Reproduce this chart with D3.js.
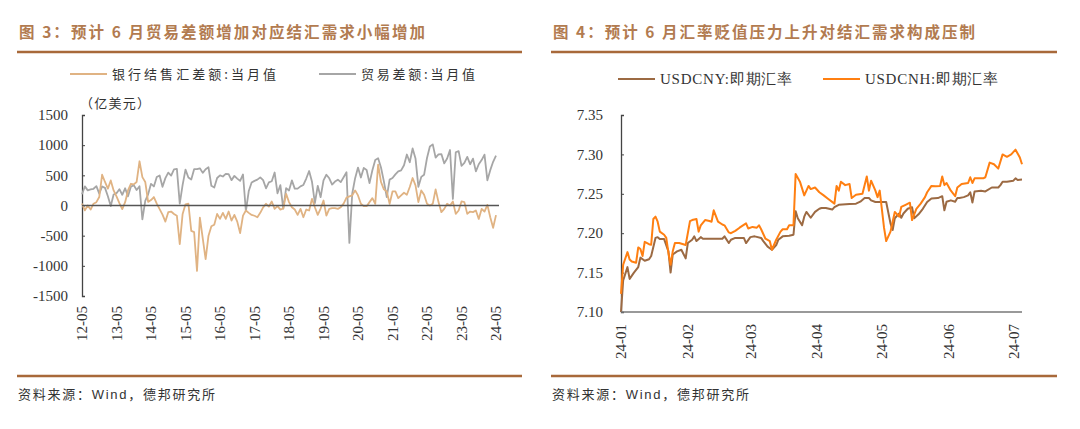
<!DOCTYPE html>
<html>
<head>
<meta charset="utf-8">
<script src="https://cdn.jsdelivr.net/npm/d3@7"></script>
<style>
  body { margin: 0; background: #fff; }
  svg { display: block; }
</style>
</head>
<body>
<script>
// ---- left chart data (monthly, 2012-05 .. 2024-05, 亿美元)
let fxSettle = [
  30, -80, 0, -67, 30, 55, 140, 510, 390, 280, 415, 250, 150, 40, -60, 55, 250, 360, 350, 390,
  733, 470, 390, 60, 90, 140, 30, -60, -150, -267, -110, -100, -140, -170, -640, -140, 20, 30, -420, -440,
  -1085, -200, -545, -890, -500, -345, -320, -139, -222, -122, -222, -100, -250, -156, -267, -456, -167, -83, -122, -156,
  -170, -194, -122, -30, 28, -17, 67, -56, -11, -67, -50, 194, 56, -28, -67, -156, -56, -194, -67, -83,
  111, -28, -156, -50, 83, -167, -56, -44, -44, -56, -28, 30, 130, 150, 167, 250, 167, 28, -11, -11,
  56, 122, 28, 678, 389, 267, 233, 28, 233, 233, 122, 167, 211, 178, 306, 456, 333, 56, 250, 178,
  28, 0, 28, 267, 56, -111, -56, 28, 0, 67, -139, -83, 67, 56, -139, -100, -110, -83, -222, -56,
  -100, 11, -194, -370, -160
]
let tradeBal = [
  187, 317, 251, 267, 277, 320, 196, 316, 292, 153, -9, 182, 204, 271, 178, 285, 152, 311, 338, 256,
  319, -230, 77, 185, 359, 316, 473, 498, 310, 454, 545, 496, 600, 606, 31, 341, 595, 465, 430, 602,
  603, 616, 541, 601, 633, 326, 299, 456, 500, 481, 523, 520, 420, 491, 446, 408, 514, -92, 239, 380,
  408, 428, 467, 420, 285, 382, 402, 547, 203, 337, -50, 288, 249, 416, 280, 279, 317, 340, 447, 571,
  392, 41, 326, 138, 417, 510, 451, 348, 397, 428, 387, 468, 550, -620, 199, 453, 629, 464, 623, 589,
  370, 584, 754, 782, 630, 400, 138, 429, 455, 515, 566, 583, 668, 845, 717, 945, 780, 310, 474, 511,
  787, 979, 1013, 794, 847, 852, 698, 780, 920, 110, 882, 902, 658, 706, 806, 684, 777, 565, 684, 753,
  844, 417, 586, 724, 826
]
let monthLabels = ["12-05", "13-05", "14-05", "15-05", "16-05", "17-05", "18-05",
  "19-05", "20-05", "21-05", "22-05", "23-05", "24-05"]
let leftTicks = [1500, 1000, 500, 0, -500, -1000, -1500]

// ---- right chart data (daily, 2024)
let cnyDates = ["01-01", "01-02", "01-04", "01-05", "01-07", "01-09", "01-10", "01-12", "01-14", "01-15",
  "01-17", "01-18", "01-19", "01-21", "01-23", "01-24", "01-25", "01-27", "01-29", "01-31",
  "02-01", "02-03", "02-04", "02-05", "02-07", "02-08", "02-17", "02-18", "02-20", "02-21",
  "02-23", "02-27", "02-28", "03-01", "03-03", "03-06", "03-07", "03-09", "03-11", "03-13",
  "03-14", "03-16", "03-19", "03-21", "03-22", "03-23", "03-25", "03-26", "03-27", "03-29",
  "03-31", "04-02", "04-03", "04-05", "04-08", "04-09", "04-11", "04-16", "04-19", "04-21",
  "04-23", "04-25", "04-26", "04-28", "05-03", "05-05", "05-06", "05-07", "05-09", "05-10",
  "05-11", "05-13", "05-15", "05-16", "05-18", "05-20", "05-22", "05-24", "05-27", "05-28",
  "05-29", "05-30", "05-31", "06-02", "06-04", "06-05", "06-06", "06-08", "06-10", "06-11",
  "06-12", "06-13", "06-16", "06-18", "06-21", "06-24", "06-25", "06-26", "06-28", "07-01",
  "07-02", "07-03", "07-05"]
let cnyValues = [7.100, 7.140, 7.157, 7.142, 7.150, 7.157, 7.169, 7.165, 7.167, 7.171,
  7.194, 7.195, 7.1925, 7.1925, 7.177, 7.150, 7.173, 7.177, 7.179, 7.168,
  7.1875, 7.1917, 7.196, 7.190, 7.195, 7.193, 7.193, 7.196, 7.1875, 7.1917,
  7.194, 7.194, 7.1875, 7.195, 7.196, 7.194, 7.190, 7.183, 7.179, 7.185,
  7.1917, 7.196, 7.1967, 7.198, 7.228, 7.219, 7.210, 7.221, 7.227, 7.2196,
  7.227, 7.231, 7.232, 7.232, 7.230, 7.233, 7.236, 7.237, 7.2375, 7.240,
  7.2446, 7.2446, 7.2417, 7.2396, 7.2396, 7.2125, 7.204, 7.219, 7.225, 7.2196,
  7.225, 7.231, 7.233, 7.219, 7.224, 7.231, 7.2396, 7.244, 7.2446, 7.2458,
  7.247, 7.229, 7.240, 7.2417, 7.240, 7.2446, 7.2446, 7.2458, 7.248, 7.252,
  7.239, 7.253, 7.254, 7.253, 7.258, 7.258, 7.261, 7.2654, 7.2654, 7.2667,
  7.2696, 7.2675, 7.268]
let cnhDates = ["01-01", "01-02", "01-04", "01-05", "01-06", "01-08", "01-09", "01-10", "01-11", "01-12",
  "01-14", "01-15", "01-16", "01-17", "01-18", "01-19", "01-21", "01-22", "01-23", "01-24",
  "01-25", "01-26", "01-28", "01-31", "02-02", "02-03", "02-05", "02-06", "02-07", "02-09",
  "02-11", "02-12", "02-13", "02-15", "02-17", "02-18", "02-20", "02-21", "02-23", "02-25",
  "02-28", "02-29", "03-02", "03-04", "03-05", "03-06", "03-08", "03-10", "03-11", "03-13",
  "03-15", "03-16", "03-18", "03-19", "03-21", "03-22", "03-24", "03-26", "03-28", "03-29",
  "03-31", "04-02", "04-04", "04-06", "04-09", "04-10", "04-11", "04-12", "04-14", "04-16",
  "04-17", "04-19", "04-22", "04-24", "04-25", "04-26", "04-28", "04-29", "04-30", "05-02",
  "05-03", "05-05", "05-06", "05-07", "05-09", "05-10", "05-12", "05-14", "05-15", "05-17",
  "05-19", "05-21", "05-22", "05-24", "05-26", "05-28", "05-29", "05-30", "05-31", "06-02",
  "06-04", "06-05", "06-07", "06-10", "06-11", "06-12", "06-13", "06-17", "06-18", "06-20",
  "06-22", "06-24", "06-26", "06-28", "06-30", "07-02", "07-04", "07-05"]
let cnhValues = [7.123, 7.160, 7.176, 7.1667, 7.164, 7.1625, 7.182, 7.180, 7.171, 7.189,
  7.186, 7.1854, 7.218, 7.221, 7.2146, 7.202, 7.198, 7.194, 7.175, 7.160,
  7.177, 7.1875, 7.1875, 7.185, 7.2154, 7.2167, 7.218, 7.202, 7.210, 7.2167,
  7.2154, 7.2146, 7.229, 7.2146, 7.211, 7.210, 7.201, 7.200, 7.203, 7.207,
  7.2125, 7.206, 7.208, 7.207, 7.210, 7.205, 7.193, 7.190, 7.179, 7.1917,
  7.202, 7.205, 7.205, 7.210, 7.210, 7.275, 7.2654, 7.248, 7.260, 7.256,
  7.258, 7.252, 7.248, 7.2437, 7.2375, 7.260, 7.254, 7.2654, 7.261, 7.2625,
  7.2446, 7.2488, 7.250, 7.272, 7.254, 7.2667, 7.254, 7.2458, 7.254, 7.207,
  7.190, 7.202, 7.2146, 7.227, 7.221, 7.2333, 7.236, 7.2387, 7.2167, 7.231,
  7.2375, 7.2458, 7.252, 7.260, 7.2596, 7.260, 7.272, 7.261, 7.2637, 7.254,
  7.247, 7.258, 7.2625, 7.2637, 7.271, 7.2637, 7.2696, 7.2696, 7.271, 7.2896,
  7.2875, 7.282, 7.300, 7.297, 7.300, 7.306, 7.296, 7.2875]
let dayLabels = ["24-01", "24-02", "24-03", "24-04", "24-05", "24-06", "24-07"]
let rightTicks = [7.10, 7.15, 7.20, 7.25, 7.30, 7.35]

let W = 1080, H = 429
let serif = "'Liberation Serif', 'Times New Roman', serif"
let cjk = "'Noto Sans CJK SC', sans-serif"
let titleColor = "#b27b50"
let ruleColor = "#a8693a"
let textColor = "#333"

let svg = d3.select("body").append("svg")
  .attr("width", W)
  .attr("height", H)
  .style("background", "#fff")

// panel frame: title, rules and source
function panel(x0, x1, title, titleLen) {
  svg.append("text")
    .attr("x", x0 + 2).attr("y", 38)
    .attr("font-family", cjk).attr("font-weight", "bold")
    .attr("font-size", 15.5).attr("fill", titleColor)
    .attr("textLength", titleLen).attr("lengthAdjust", "spacing")
    .text(title)
  svg.append("line")
    .attr("x1", x0).attr("x2", x1).attr("y1", 52).attr("y2", 52)
    .attr("stroke", ruleColor).attr("stroke-width", 2.5)
  svg.append("line")
    .attr("x1", x0).attr("x2", x1).attr("y1", 376).attr("y2", 376)
    .attr("stroke", ruleColor).attr("stroke-width", 2.5)
  let src = svg.append("text")
    .attr("x", x0 + 1).attr("y", 399)
    .attr("font-size", 13).attr("fill", textColor)
    .attr("textLength", 197).attr("lengthAdjust", "spacing")
  src.append("tspan").attr("font-family", cjk).text("资料来源：")
  src.append("tspan").attr("font-family", "'Liberation Sans', Arial, sans-serif").text("Wind")
  src.append("tspan").attr("font-family", cjk).text("，德邦研究所")
}

function legendItem(x, y, color, label, len, font, size) {
  svg.append("line")
    .attr("x1", x).attr("x2", x + 37).attr("y1", y).attr("y2", y)
    .attr("stroke", color).attr("stroke-width", 2)
  svg.append("text")
    .attr("x", x + 42).attr("y", y + 5)
    .attr("font-family", font).attr("font-size", size).attr("fill", textColor)
    .attr("textLength", len).attr("lengthAdjust", "spacing")
    .text(label)
}

panel(17, 522, "图 3：预计 6 月贸易差额增加对应结汇需求小幅增加", 406)
panel(551, 1057, "图 4：预计 6 月汇率贬值压力上升对结汇需求构成压制", 422)

// ================= left chart
let xL = d3.scaleLinear().domain([0, tradeBal.length - 1]).range([82, 496])
let yL = d3.scaleLinear().domain([-1500, 1500]).range([296, 115])

legendItem(70, 74, "#e0b383", "银行结售汇差额:当月值", 164, cjk, 13)
legendItem(319, 74, "#a6a6a6", "贸易差额:当月值", 114, cjk, 13)

svg.append("text")
  .attr("x", 80).attr("y", 108)
  .attr("font-family", cjk).attr("font-size", 13).attr("fill", textColor)
  .attr("textLength", 70).attr("lengthAdjust", "spacing")
  .text("（亿美元）")

let gyL = svg.append("g").attr("transform", "translate(82,0)")
  .call(d3.axisRight(yL).tickValues(leftTicks).tickSize(3).tickFormat(d3.format("d")))
gyL.selectAll("text").remove()
gyL.select(".domain").attr("stroke", "#444").attr("stroke-width", 1.3)
gyL.selectAll(".tick line").attr("stroke", "#444")

svg.selectAll(".ylab-l").data(leftTicks).enter().append("text")
  .attr("class", "ylab-l")
  .attr("x", 68).attr("y", d => yL(d)).attr("dy", "0.35em")
  .attr("text-anchor", "end")
  .attr("font-family", serif).attr("font-size", 15).attr("fill", textColor)
  .text(d => d)

let lineL = d3.line().x((d, i) => xL(i)).y(d => yL(d))
svg.append("path").datum(tradeBal)
  .attr("d", lineL).attr("fill", "none")
  .attr("stroke", "#a6a6a6").attr("stroke-width", 1.8).attr("stroke-linejoin", "round")
svg.append("path").datum(fxSettle)
  .attr("d", lineL).attr("fill", "none")
  .attr("stroke", "#e0b383").attr("stroke-width", 1.8).attr("stroke-linejoin", "round")

// zero line (category axis)
svg.append("line")
  .attr("x1", 82).attr("x2", 499).attr("y1", yL(0)).attr("y2", yL(0))
  .attr("stroke", "#555").attr("stroke-width", 1.5)

svg.selectAll(".xlab-l").data(monthLabels).enter().append("text")
  .attr("class", "xlab-l")
  .attr("transform", (d, i) => "translate(" + xL(i * 12) + ",306) rotate(-90)")
  .attr("dy", "0.35em").attr("text-anchor", "end")
  .attr("font-family", serif).attr("font-size", 15).attr("fill", textColor)
  .text(d => d)

// ================= right chart
let parse = d3.timeParse("%Y-%m-%d")
let cny = cnyDates.map((d, i) => ({ date: parse("2024-" + d), v: cnyValues[i] }))
let cnh = cnhDates.map((d, i) => ({ date: parse("2024-" + d), v: cnhValues[i] }))

let xR = d3.scaleTime().domain([parse("2024-01-01"), parse("2024-07-05")]).range([621, 1022])
let yR = d3.scaleLinear().domain([7.10, 7.35]).range([312, 115])

legendItem(618, 79, "#9c6a43", "USDCNY:即期汇率", 132, serif, 15)
legendItem(823, 79, "#ff7f11", "USDCNH:即期汇率", 133, serif, 15)

let gyR = svg.append("g").attr("transform", "translate(621,0)")
  .call(d3.axisRight(yR).tickValues(rightTicks).tickSize(3))
gyR.selectAll("text").remove()
gyR.select(".domain").attr("stroke", "#444").attr("stroke-width", 1.3)
gyR.selectAll(".tick line").attr("stroke", "#444")

svg.selectAll(".ylab-r").data(rightTicks).enter().append("text")
  .attr("class", "ylab-r")
  .attr("x", 603).attr("y", d => yR(d)).attr("dy", "0.35em")
  .attr("text-anchor", "end")
  .attr("font-family", serif).attr("font-size", 15).attr("fill", textColor)
  .text(d => d3.format(".2f")(d))

let lineR = d3.line().x(d => xR(d.date)).y(d => yR(d.v))
svg.append("path").datum(cny)
  .attr("d", lineR).attr("fill", "none")
  .attr("stroke", "#9c6a43").attr("stroke-width", 2).attr("stroke-linejoin", "round")
svg.append("path").datum(cnh)
  .attr("d", lineR).attr("fill", "none")
  .attr("stroke", "#ff7f11").attr("stroke-width", 2).attr("stroke-linejoin", "round")

svg.append("line")
  .attr("x1", 621).attr("x2", 1022).attr("y1", 312).attr("y2", 312)
  .attr("stroke", "#777").attr("stroke-width", 1.5)

svg.selectAll(".xlab-r").data(dayLabels).enter().append("text")
  .attr("class", "xlab-r")
  .attr("transform", d => "translate(" + xR(parse("20" + d + "-01")) + ",324) rotate(-90)")
  .attr("dy", "0.35em").attr("text-anchor", "end")
  .attr("font-family", serif).attr("font-size", 15).attr("fill", textColor)
  .text(d => d)
</script>
</body>
</html>
